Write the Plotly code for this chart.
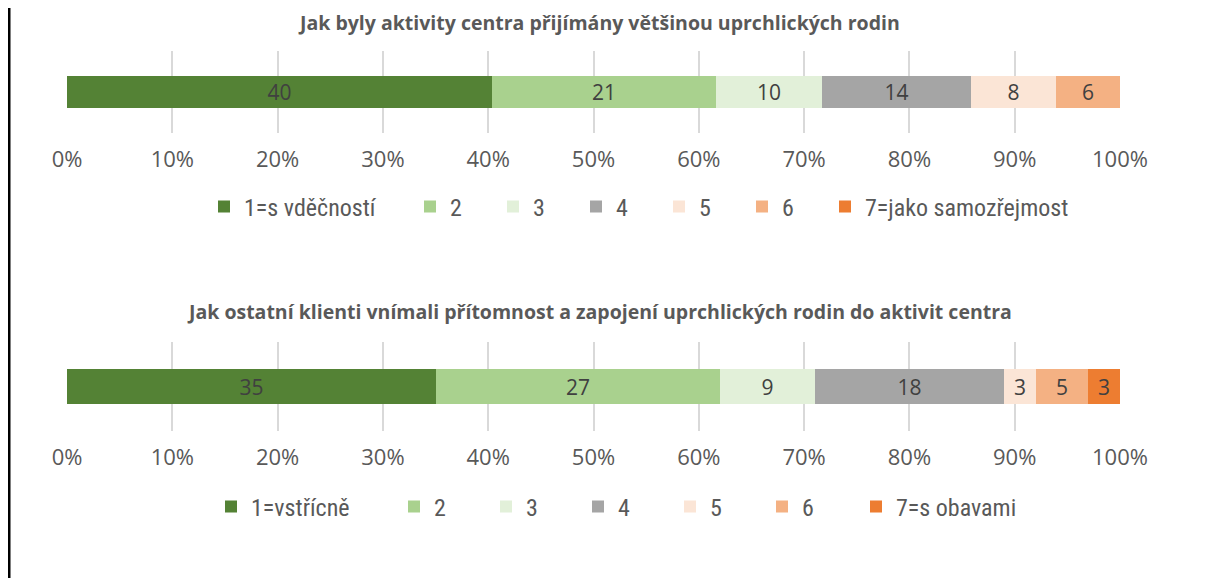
import plotly.graph_objects as go

# odpovědi na škále 1–7
categories_top = ["1=s vděčností", "2", "3", "4", "5", "6", "7=jako samozřejmost"]
values_top = [40, 21, 10, 14, 8, 6, 0]
categories_bottom = ["1=vstřícně", "2", "3", "4", "5", "6", "7=s obavami"]
values_bottom = [35, 27, 9, 18, 3, 5, 3]
title_top = "Jak byly aktivity centra přijímány většinou uprchlických rodin"
title_bottom = "Jak ostatní klienti vnímali přítomnost a zapojení uprchlických rodin do aktivit centra"
tick_vals = [0, 10, 20, 30, 40, 50, 60, 70, 80, 90, 100]
tick_text = [f"{t}%" for t in tick_vals]

colors = ["#548235", "#A9D18E", "#E2F0D9", "#A5A5A5", "#FBE5D6", "#F4B183", "#ED7D31"]

W, H = 1208, 578
OFF = 8  # okraj stránky v html
GREY = "#595959"
FONT = "Open Sans, sans-serif"
LEG_FONT = "Liberation Sans Narrow, Arial Narrow, Roboto Condensed, Roboto, sans-serif"


def px(x):
    return (x - OFF) / W


def py(y):
    return 1 - (y - OFF) / H


fig = go.Figure()

def add_bars(cats, vals, xa, ya, legs):
    for i, (c, v) in enumerate(zip(cats, vals)):
        fig.add_trace(go.Bar(
            y=[0], x=[v], orientation="h", name=c,
            marker=dict(color=colors[i], line=dict(width=0)),
            text=[str(v) if v else ""], textposition="inside", textangle=0,
            insidetextanchor="middle", constraintext="none",
            textfont=dict(size=21, color="#404040", family=FONT),
            width=0.4, xaxis=xa, yaxis=ya,
            legend=legs[0] if i == 0 else (legs[2] if i == len(cats) - 1 else legs[1]),
            hoverinfo="skip",
        ))

add_bars(categories_top, values_top, "x", "y", ["legend", "legend2", "legend3"])
add_bars(categories_bottom, values_bottom, "x2", "y2", ["legend4", "legend5", "legend6"])

axis_common = dict(
    range=[0, 100], tickvals=tick_vals, ticktext=tick_text,
    showgrid=True, gridcolor="#D9D9D9", gridwidth=1.5, zeroline=False,
    showline=False, ticks="outside", ticklen=7, tickcolor="rgba(0,0,0,0)",
    tickfont=dict(size=22, color=GREY, family=FONT), fixedrange=True,
)
yaxis_common = dict(range=[-0.5, 0.5], showticklabels=False, showgrid=False,
                    zeroline=False, fixedrange=True)

def leg(marker_x, y, entrywidth=None):
    d = dict(orientation="h", x=px(marker_x - 16), xanchor="left", y=py(y), yanchor="middle",
             font=dict(size=24, color=GREY, family=LEG_FONT),
             bgcolor="rgba(0,0,0,0)", traceorder="normal")
    if entrywidth:
        d["entrywidth"] = entrywidth
        d["entrywidthmode"] = "pixels"
    return d

fig.update_layout(
    width=W, height=H, margin=dict(l=0, r=0, t=0, b=0, autoexpand=False),
    paper_bgcolor="white", plot_bgcolor="white",
    barmode="stack", barnorm="percent", bargap=0,
    xaxis=dict(domain=[px(67), px(1120)], anchor="y", **axis_common),
    yaxis=dict(domain=[py(133), py(51)], anchor="x", **yaxis_common),
    xaxis2=dict(domain=[px(67), px(1120)], anchor="y2", **axis_common),
    yaxis2=dict(domain=[py(431), py(342)], anchor="x2", **yaxis_common),
    legend=leg(220, 207),
    legend2=leg(426, 207, 38),
    legend3=leg(841, 207),
    legend4=leg(227, 507),
    legend5=leg(410, 507, 47),
    legend6=leg(872, 507),
    annotations=[
        dict(text=f"<b>{title_top}</b>", x=px(599), y=py(22), xref="paper", yref="paper",
             xanchor="center", yanchor="middle", showarrow=False,
             font=dict(size=19.5, color=GREY, family=FONT)),
        dict(text=f"<b>{title_bottom}</b>", x=px(599), y=py(311), xref="paper", yref="paper",
             xanchor="center", yanchor="middle", showarrow=False,
             font=dict(size=19.5, color=GREY, family=FONT)),
    ],
    shapes=[dict(type="line", xref="paper", yref="paper", x0=px(9), x1=px(9), y0=0, y1=1.05,
                 line=dict(color="black", width=3))],
    showlegend=True,
)

fig.write_html("out.html")
